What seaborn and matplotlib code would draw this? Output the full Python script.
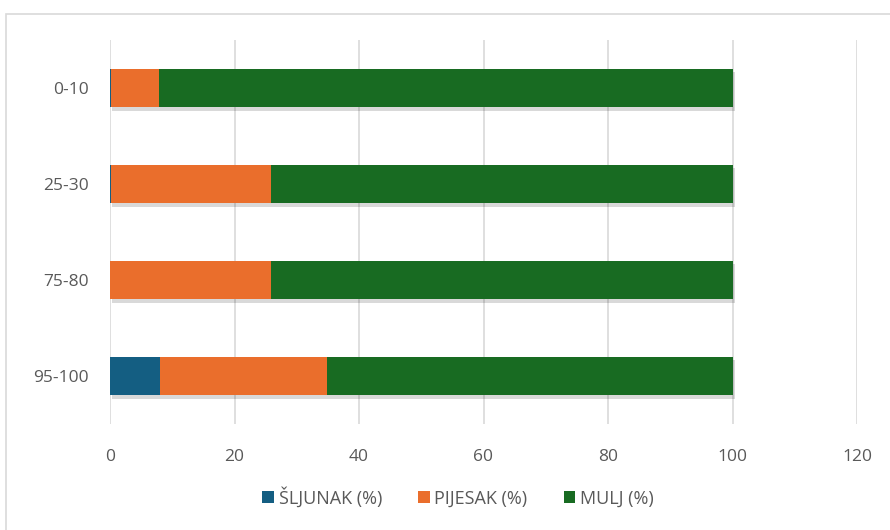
import matplotlib
matplotlib.use("Agg")
import matplotlib.pyplot as plt
import matplotlib.patheffects as pe
from matplotlib.patches import Rectangle, Patch
import seaborn as sns
import pandas as pd
import numpy as np

categories = ["0-10", "25-30", "75-80", "95-100"]
sljunak = [0.2, 0.2, 0.0, 8.1]
pijesak = [7.7, 25.6, 25.9, 26.7]
mulj = [92.1, 74.2, 74.1, 65.2]
series_names = ["ŠLJUNAK (%)", "PIJESAK (%)", "MULJ (%)"]
colors = ["#145E82", "#EA6E2C", "#186B22"]

sns.set_theme(style="white")
plt.rcParams["font.family"] = ["Open Sans", "DejaVu Sans"]

fig = plt.figure(figsize=(8.9, 5.3), dpi=100)
ax = fig.add_axes([110/890, 1-424/530, (857-110)/890, (424-40)/530])

c1 = np.array(sljunak)
c2 = c1 + np.array(pijesak)
c3 = c2 + np.array(mulj)
layers = [(c3, colors[2]), (c2, colors[1]), (c1, colors[0])]
for i, (vals, col) in enumerate(layers):
    df = pd.DataFrame({"cat": categories, "val": vals})
    sns.barplot(data=df, y="cat", x="val", orient="h", color=col, width=0.4,
                saturation=1, ax=ax, order=categories)
# soft shadow on the full bars
for p in ax.patches[:len(categories)]:
    p.set_path_effects([pe.SimplePatchShadow(offset=(1.5, -2.5), alpha=0.15, shadow_rgbFace="black"), pe.Normal()])
for p in ax.patches:
    p.set_linewidth(0)

ax.set_xlim(0, 120)
ax.set_xticks([0, 20, 40, 60, 80, 100, 120])
ax.set_ylim(3.5, -0.5)
ax.grid(axis="x", color="#d9d9d9", linewidth=1.2)
ax.set_axisbelow(True)
for s in ax.spines.values():
    s.set_visible(False)
ax.set_xlabel("")
ax.set_ylabel("")
ax.tick_params(axis="x", labelsize=12.5, colors="#595959", pad=18, length=0)
ax.tick_params(axis="y", labelsize=12.5, colors="#595959", pad=15, length=0)

handles = [Patch(facecolor=c, edgecolor="none") for c in colors]
leg = fig.legend(handles, series_names, loc="center", bbox_to_anchor=(458/890, 1-497/530),
                 ncol=3, frameon=False, fontsize=13, handlelength=0.65, handleheight=0.65,
                 handletextpad=0.25, columnspacing=2.0)
for t in leg.get_texts():
    t.set_color("#595959")

fig.patches.append(Rectangle((5.5/890, -0.1), 1.2, 1 - 13.5/530 + 0.1, transform=fig.transFigure,
                             fill=False, edgecolor="#d9d9d9", linewidth=1.2))

fig.savefig("out.png", dpi=100)
